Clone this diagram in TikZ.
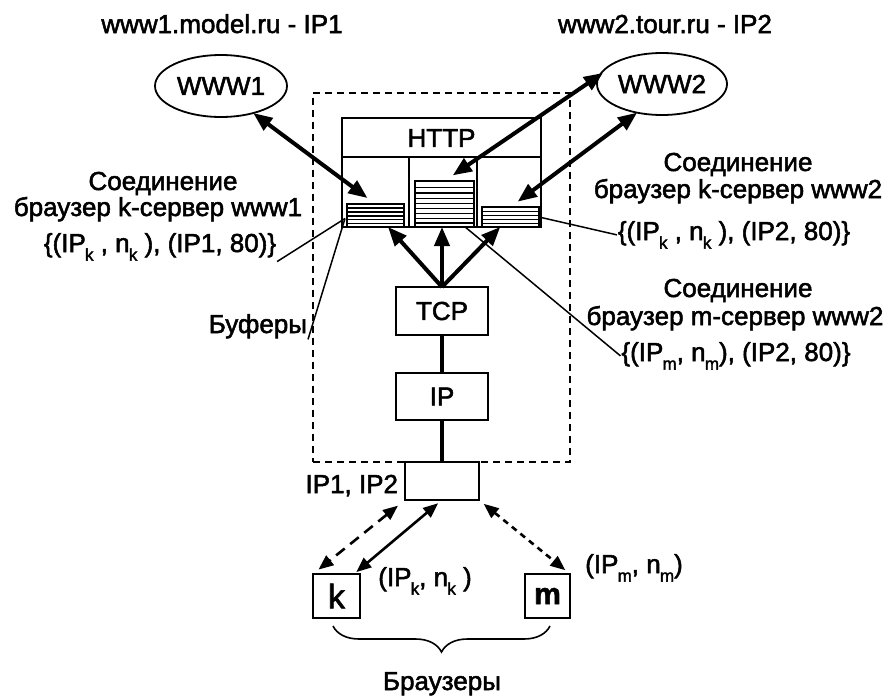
\documentclass[tikz,border=0pt]{standalone}
\usepackage{fontspec}
\setmainfont{Liberation Sans}[FakeBold=2]
\usetikzlibrary{arrows.meta,calc,decorations.pathreplacing,shapes.geometric}

% small lowered index set after the preceding letter
\newcommand{\lowsub}[1]{\kern-0.03em\raisebox{-0.33em}{\fontsize{17}{17}\selectfont #1}}

\begin{document}
\begin{tikzpicture}[x=1pt,y=-1pt,
  every node/.style={inner sep=0pt, outer sep=0pt},
  txt/.style={font=\fontsize{26}{31}\selectfont},
  lbl/.style={txt, anchor=base, inner sep=1pt},
  boxn/.style={draw, line width=2pt, txt},
  server/.style={ellipse, draw, line width=1.8pt, minimum width=132pt, minimum height=62pt, txt},
  bufbox/.style={draw, line width=1.8pt},
  bighead/.style={line width=4pt, -{Triangle[length=19pt,width=15pt]}},
  bigboth/.style={line width=4pt, {Triangle[length=19pt,width=15pt]}-{Triangle[length=19pt,width=15pt]}},
  linkboth/.style={line width=2.6pt, {Triangle[length=15pt,width=12pt]}-{Triangle[length=15pt,width=12pt]}},
  leader/.style={line width=1.5pt}
]
\useasboundingbox (0,0) rectangle (896,696);
\fill[white] (0,0) rectangle (896,696);

% host boundary
\node[draw, line width=2pt, dash pattern=on 7pt off 5pt, minimum width=257pt, minimum height=369pt] (host) at (441.5,277.5) {};

% HTTP level
\node[draw, line width=2pt, minimum width=199pt, minimum height=109pt] (httpbox) at (441.5,172.5) {};
\node[txt] (httplbl) at (441.5,138) {HTTP};
\draw[line width=1.6pt] (342,157) -- (541,157);
\draw[line width=1.6pt] (409,157) -- (409,227);
\draw[line width=1.6pt] (477,157) -- (477,227);

% buffers
\node[bufbox, minimum width=57pt, minimum height=23pt] (bufL) at (375.5,215.5) {};
\node[bufbox, minimum width=59pt, minimum height=46pt] (bufM) at (444.5,204) {};
\node[bufbox, minimum width=57pt, minimum height=20pt] (bufR) at (510.5,217) {};
\foreach \yy in {208,212,216,219.5,223.5}
  \draw[line width=1.3pt] (347,\yy) -- (404,\yy);
\foreach \yy in {187.5,193,198.5,203.5,208.5,213.5,218.5,223}
  \draw[line width=1.3pt] (415,\yy) -- (474,\yy);
\foreach \yy in {211.5,215.5,219.5,223.5}
  \draw[line width=1.3pt] (482,\yy) -- (539,\yy);

% lower layers
\node[boxn, minimum width=92pt, minimum height=48pt] (tcp) at (442,311) {TCP};
\node[boxn, minimum width=92pt, minimum height=47pt] (ip) at (442,396.5) {IP};
\node[draw, line width=2pt, minimum width=74pt, minimum height=38pt] (nic) at (442,481) {};
\node[txt, anchor=base east] (niclbl) at (398,493) {IP1, IP2};

\draw[line width=3.5pt] (tcp.south) -- (ip.north);
\draw[line width=3.5pt] (ip.south) -- (nic.north);

% servers
\node[server] (w1) at (221,86) {WWW1};
\node[server, minimum width=130pt] (w2) at (662,84) {WWW2};
\node[lbl] (w1name) at (222,33) {www1.model.ru - IP1};
\node[lbl] (w2name) at (665,33) {www2.tour.ru - IP2};

% connections between servers and buffers
\draw[bigboth, shorten >=10pt] (w1.-40) -- (bufL.north);
\draw[bigboth, shorten <=10pt, shorten >=-4pt] (bufM.north) -- (w2.172);
\draw[bigboth, shorten <=9pt] (bufR.north) -- (w2.-131);

% TCP demultiplexing to buffers
\draw[bighead] (tcp.north) -- ($(bufL.south west)!0.72!(bufL.south east)$);
\draw[bighead] (tcp.north) -- (tcp.north |- bufM.south);
\draw[bighead] (tcp.north) -- ($(bufR.south west)!0.32!(bufR.south east)$);

% connection labels, left
\node[lbl] (c1a) at (163,190) {Соединение};
\node[lbl] (c1b) at (158,216) {браузер k-сервер www1};
\node[lbl] (c1c) at (160,252) {\{(IP\lowsub{k} , n\lowsub{k} ), (IP1, 80)\}};
\node[lbl, anchor=base east] (bufs) at (308,333) {Буферы};
\draw[leader] (c1c.south east) -- ($(bufL.west)+(-2,3)$);
\draw[leader] (bufs.south east) -- ($(bufL.west)+(-2,3)$);

% connection labels, right
\node[lbl] (c2a) at (738,171) {Соединение};
\node[lbl] (c2b) at (738,198) {браузер k-сервер www2};
\node[lbl] (c2c) at (734,240) {\{(IP\lowsub{k} , n\lowsub{k} ), (IP2, 80)\}};
\node[lbl] (c3a) at (738,297) {Соединение};
\node[lbl] (c3b) at (735,325) {браузер m-сервер www2};
\node[lbl] (c3c) at (736,361) {\{(IP\lowsub{m}, n\lowsub{m}), (IP2, 80)\}};
\draw[leader] (bufR.east) -- (c2c.west);
\draw[leader] ($(bufM.south west)!0.85!(bufM.south east)$) -- (c3c.west);

% browsers
\node[boxn, minimum width=47pt, minimum height=44pt, font=\fontsize{34}{34}\selectfont] (kb) at (336.5,596) {k};
\node[boxn, minimum width=45pt, minimum height=44pt, font=\fontsize{30}{30}\selectfont\bfseries] (mb) at (547.5,596) {m};
\node[lbl] (kaddr) at (425,586) {(IP\lowsub{k}, n\lowsub{k} )};
\node[lbl] (maddr) at (634,573) {(IP\lowsub{m}, n\lowsub{m})};

\draw[linkboth, dash pattern=on 11pt off 7pt, shorten <=9pt, shorten >=7pt] (nic.south west) -- (kb.north west);
\draw[linkboth, shorten <=5pt, shorten >=3pt] (nic.south) -- ($(kb.north east)+(-6,0)$);
\draw[linkboth, dash pattern=on 6pt off 5pt, shorten <=6pt, shorten >=6pt] (nic.south east) -- (mb.north east);

\draw[line width=1.6pt, decorate, decoration={brace, mirror, amplitude=26pt}] (333,626) -- (550,626);
\node[lbl] (brws) at (442,690) {Браузеры};

\end{tikzpicture}
\end{document}
